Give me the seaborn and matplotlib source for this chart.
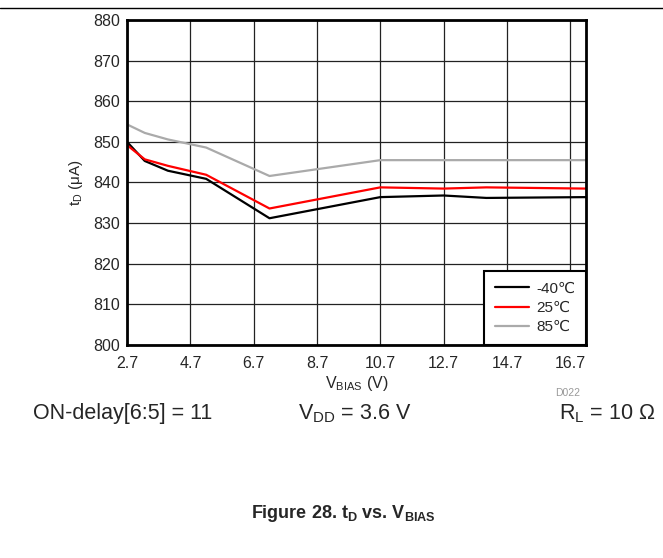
import matplotlib
matplotlib.use("Agg")
import matplotlib.pyplot as plt
import seaborn as sns
import pandas as pd

# values
vbias = [2.7, 3.26, 3.99, 5.2, 7.2, 10.7, 12.7, 14.05, 17.2]
td_m40 = [850.0, 845.3, 842.9, 840.9, 831.2, 836.4, 836.8, 836.2, 836.4]
td_25 = [849.2, 845.7, 844.1, 841.9, 833.6, 838.8, 838.5, 838.8, 838.5]
td_85 = [854.3, 852.2, 850.6, 848.6, 841.6, 845.5, 845.5, 845.5, 845.5]
temps = ["-40℃", "25℃", "85℃"]
colors = ["black", "red", "#aaaaaa"]
x_ticks = [2.7, 4.7, 6.7, 8.7, 10.7, 12.7, 14.7, 16.7]
y_ticks = list(range(800, 881, 10))

df = pd.DataFrame({
    "vbias": vbias * 3,
    "td": td_m40 + td_25 + td_85,
    "temp": [t for t in temps for _ in vbias],
})

sns.set_style("white")
plt.rcParams["font.family"] = ["Liberation Sans", "DejaVu Sans"]
plt.rcParams["mathtext.fontset"] = "custom"
plt.rcParams["mathtext.rm"] = "Liberation Sans"
plt.rcParams["mathtext.it"] = "Liberation Sans"
plt.rcParams["mathtext.bf"] = "Liberation Sans:bold"
plt.rcParams["mathtext.default"] = "regular"

fig = plt.figure(figsize=(6.63, 5.58), dpi=100)
ax = fig.add_axes([0.1916, 0.3817, 0.6924, 0.5825])

sns.lineplot(data=df, x="vbias", y="td", hue="temp", palette=colors,
             hue_order=temps, linewidth=1.6, ax=ax, legend=False)

ax.set_xlim(2.7, 17.2)
ax.set_ylim(800, 880)
ax.set_xticks(x_ticks)
ax.set_xticklabels([str(v) for v in x_ticks])
ax.set_yticks(y_ticks)
ax.grid(True, color="#222222", linewidth=0.9)
ax.tick_params(axis="both", labelsize=11.5, length=3, width=1, color="black", pad=2)
ax.tick_params(axis="x", length=0, pad=8)
for s in ax.spines.values():
    s.set_color("black")
    s.set_linewidth(2)

ax.set_xlabel(r"$V_{BIAS}$ (V)", fontsize=11.5, labelpad=2)
ax.set_ylabel(r"$t_D$ ($\mu$A)", fontsize=11, labelpad=6)

handles = [plt.Line2D([], [], color=c, linewidth=1.6) for c in colors]
leg = ax.legend(handles, temps, loc="lower right", fontsize=11, frameon=True,
                fancybox=False, borderaxespad=0, handlelength=2.2,
                labelspacing=0.35, borderpad=0.7, handletextpad=0.5)
leg.get_frame().set_edgecolor("black")
leg.get_frame().set_linewidth(1.5)
leg.get_frame().set_alpha(1)

# top rule across the page
fig.add_artist(plt.Line2D([0, 1], [1 - 8 / 558, 1 - 8 / 558], color="black",
                          linewidth=1, transform=fig.transFigure))

fig.text(568 / 663, 1 - 393 / 558, "D022", fontsize=7.5, color="#999999", ha="center", va="center")
fig.text(33 / 663, 1 - 414 / 558, "ON-delay[6:5] = 11", fontsize=15.5, ha="left", va="center")
fig.text(355 / 663, 1 - 414 / 558, r"$V_{DD}$ = 3.6 V", fontsize=15.5, ha="center", va="center")
fig.text(655 / 663, 1 - 414 / 558, r"$R_L$ = 10 Ω", fontsize=15.5, ha="right", va="center")
fig.text(343 / 663, 1 - 513 / 558, r"Figure 28. $\mathbf{t_D}$ vs. $\mathbf{V_{BIAS}}$",
         fontsize=13, fontweight="bold", ha="center", va="center")

fig.savefig("out.png", dpi=100)
